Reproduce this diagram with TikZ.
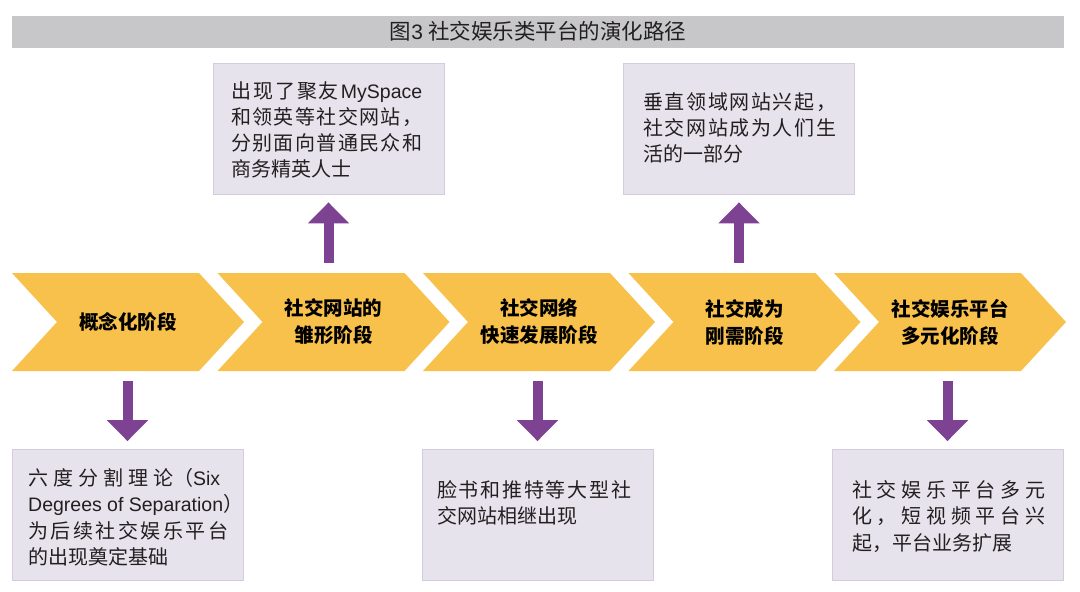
\documentclass[tikz,border=0pt]{standalone}
\usepackage{fontspec}
\setmainfont{Noto Sans CJK SC}
\newfontfamily\lat{Liberation Sans}[Scale=0.975]
\usetikzlibrary{arrows.meta}
\definecolor{chevY}{HTML}{F7C14B}
\definecolor{arrP}{HTML}{7D4392}
\definecolor{boxF}{HTML}{E7E3ED}
\definecolor{boxD}{HTML}{D5CBE0}
\definecolor{barG}{HTML}{C7C7C9}
\definecolor{txtD}{HTML}{231F20}
\newcommand\jg{\hskip0pt plus 1fil\relax}
\def\jlx#1{\ifx#1\relax\else#1\jg\expandafter\jlx\fi}
\newcommand\jl[2]{\makebox[#1pt][s]{\jlx#2\relax\unskip}}
\newcommand\jm[2]{\makebox[#1pt][s]{#2}}
\tikzset{
  chevfill/.style={fill=chevY, draw=none},
  chevlbl/.style={inner sep=0pt, minimum width=232pt, minimum height=98pt, align=center,
    font=\fontsize{19.5}{27}\selectfont\bfseries, text=black},
  infobox/.style={fill=boxF, draw=boxD, line width=0.8pt, minimum width=231pt, minimum height=131pt, inner sep=0pt},
  infotxt/.style={anchor=base west, inner sep=0pt, text=txtD},
  bigarrow/.style={draw=arrP, line width=10pt, -{Triangle[width=40pt,length=21pt]},
    shorten <=10pt, shorten >=8pt},
  titlebar/.style={fill=barG, minimum width=1052pt, minimum height=31.5pt, inner sep=0pt,
    font=\fontsize{21.5}{24}\selectfont, text=txtD}
}
\begin{document}
\begin{tikzpicture}[x=1pt,y=-1pt]
\fill[white] (0,0) rectangle (1080,592);
\useasboundingbox (0,0) rectangle (1080,592);

% title
\node[titlebar] (title) at (538,31.75) {图{\lat 3}\hspace{5pt}社交娱乐类平台的演化路径};

% chevrons
\foreach \i in {0,...,4}{
  \fill[chevfill] ({12+205.5*\i},273) -- ({199+205.5*\i},273) -- ({244+205.5*\i},322)
    -- ({199+205.5*\i},371) -- ({12+205.5*\i},371) -- ({57+205.5*\i},322) -- cycle;
}
\node[chevlbl] (ch1) at (128,322) {概念化阶段};
\node[chevlbl] (ch2) at (333.5,322) {社交网站的\\雏形阶段};
\node[chevlbl] (ch3) at (539,322) {社交网络\\快速发展阶段};
\node[chevlbl] (ch4) at (744.5,322) {社交成为\\刚需阶段};
\node[chevlbl] (ch5) at (950,322) {社交娱乐平台\\多元化阶段};

% boxes
\node[infobox] (b1) at (127.5,515) {};
\node[infobox] (b2) at (328.5,128.5) {};
\node[infobox] (b3) at (537.5,515) {};
\node[infobox] (b4) at (739,128.5) {};
\node[infobox] (b5) at (947.5,515) {};

% box texts
\node[infotxt] (t1) at (28,485.6) {\parbox[t]{215pt}{\fontsize{20}{26.2}\selectfont
  \jm{192}{六\jg 度\jg 分\jg 割\jg 理\jg 论（{\lat Six}}\\
  {\lat Degrees of Separation}）\\
  \jl{200}{为后续社交娱乐平台}\\
  的出现奠定基础}};
\node[infotxt] (t2) at (231,98.3) {\parbox[t]{215pt}{\fontsize{20}{26.2}\selectfont
  \jm{191}{出\jg 现\jg 了\jg 聚\jg 友\jg {\lat MySpace}}\\
  \jl{191}{和领英等社交网站，}\\
  \jl{191}{分别面向普通民众和}\\
  商务精英人士}};
\node[infotxt] (t3) at (437,497.6) {\parbox[t]{215pt}{\fontsize{20}{26.2}\selectfont
  \jl{194}{脸书和推特等大型社}\\
  交网站相继出现}};
\node[infotxt] (t4) at (643,109.3) {\parbox[t]{215pt}{\fontsize{20}{26.2}\selectfont
  \jl{193}{垂直领域网站兴起，}\\
  \jl{193}{社交网站成为人们生}\\
  活的一部分}};
\node[infotxt] (t5) at (852,497.6) {\parbox[t]{215pt}{\fontsize{20}{26.2}\selectfont
  \jl{193}{社交娱乐平台多元}\\
  \jl{193}{化，短视频平台兴}\\
  起，平台业务扩展}};

% arrows
\draw[bigarrow] (b1.north |- ch1.south) -- (b1.north);
\draw[bigarrow] (b3.north |- ch3.south) -- (b3.north);
\draw[bigarrow] (b5.north |- ch5.south) -- (b5.north);
\draw[bigarrow] (b2.south |- ch2.north) -- (b2.south);
\draw[bigarrow] (b4.south |- ch4.north) -- (b4.south);
\end{tikzpicture}
\end{document}
